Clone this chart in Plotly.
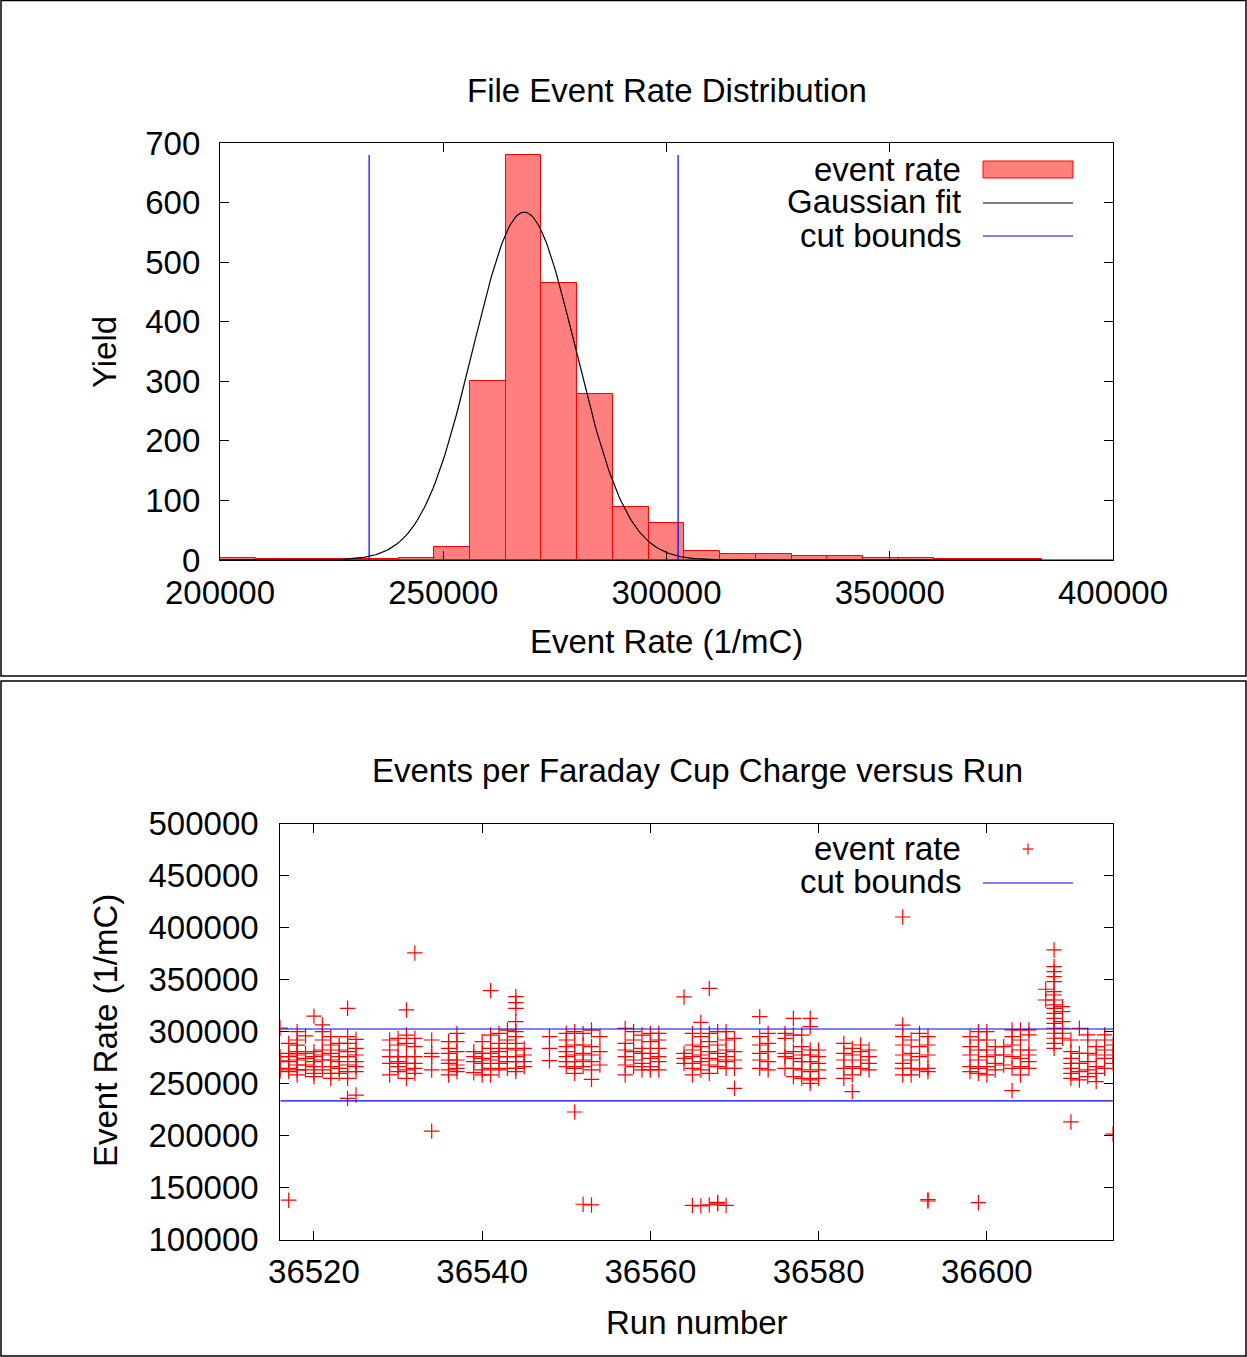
import numpy as np
import plotly.graph_objects as go

# ---------------- data: histogram ----------------
bin_low_edges = [200000, 208000, 216000, 224000, 232000, 240000, 248000, 256000,
                 264000, 272000, 280000, 288000, 296000, 304000, 312000, 320000,
                 328000, 336000, 344000, 352000, 360000, 368000, 376000]
bin_width = 8000
yield_counts = [3, 1, 1, 1, 2, 3, 22, 300, 680, 465, 278, 89, 62, 15, 10, 10,
                7, 7, 3, 4, 1, 1, 1]

# Gaussian fit parameters
fit_amplitude = 584
fit_mean = 268150
fit_sigma = 11500

cut_low = 233400
cut_high = 302600

# ---------------- data: event rate per run ----------------
run_ids = [36516, 36517, 36518, 36519, 36520, 36521, 36522, 36523, 36524, 36525,
           36529, 36530, 36531, 36532, 36534, 36536, 36537, 36539, 36540, 36541,
           36542, 36543, 36544, 36545, 36548, 36550, 36551, 36552, 36553, 36554,
           36557, 36558, 36559, 36560, 36561, 36564, 36565, 36566, 36567, 36568,
           36569, 36570, 36573, 36574, 36576, 36577, 36578, 36579, 36580, 36583,
           36584, 36585, 36586, 36590, 36591, 36592, 36593, 36598, 36599, 36600,
           36601, 36602, 36603, 36604, 36605, 36607, 36608, 36609, 36610, 36611,
           36612, 36613, 36614, 36615]
run_rates = [
    [303500, 276000, 272000, 264000, 262000],
    [288800, 279200, 276000, 271200, 264800, 261600, 138000],
    [300000, 292000, 287000, 280800, 277600, 272800, 268000, 263200, 258400],
    [295900, 279200, 274400, 268000, 263200],
    [315000, 280800, 276000, 271200, 266400, 260000, 256800],
    [306500, 300000, 292000, 282400, 277600, 272800, 263200],
    [295200, 287200, 279200, 272800, 266400, 260000, 255200],
    [288800, 282400, 276000, 271200, 264800, 260000],
    [322500, 295200, 288800, 280800, 276000, 268000, 261600, 255200, 235900],
    [292700, 284000, 277600, 271200, 266400, 261600, 239100],
    [292000, 282400, 276000, 269600, 258400],
    [293600, 287200, 276000, 271200, 266400, 261600],
    [320900, 296800, 288800, 276000, 269600, 263200, 255200],
    [375700, 293600, 285600, 276000, 269600, 264800, 260000],
    [292000, 279200, 276000, 263200, 204400],
    [290400, 284000, 279200, 272800, 269600, 263200, 258400],
    [298400, 290400, 280800, 272800, 268000, 264800, 261600],
    [280800, 276000, 271200, 260600],
    [290400, 279200, 274400, 269600, 263200, 258400],
    [339500, 296800, 284000, 279200, 272800, 264800, 258400],
    [298400, 288800, 280800, 276000, 269600, 263200],
    [301600, 292000, 284000, 276000, 271200, 264800],
    [333700, 328000, 322500, 309700, 300000, 295200, 288800, 282400, 276000, 271200, 264800, 261600],
    [284000, 277600, 271200, 266400],
    [295200, 284000, 272100],
    [298400, 292000, 285600, 280800, 276000, 271200, 266400],
    [300000, 287200, 277600, 271200, 264800, 260000, 222800],
    [298400, 287200, 279200, 272800, 266400, 134100],
    [301600, 285600, 277600, 271200, 263200, 254200, 133400],
    [295200, 280800, 268000],
    [303200, 288800, 282400, 276000, 268000, 258400],
    [300000, 292000, 280800, 272800, 266400],
    [296800, 284000, 279200, 269600, 263200],
    [298400, 290400, 279200, 274400, 266400, 263200],
    [298400, 292000, 284000, 276000, 271200, 263200],
    [333400, 279200, 274400, 269600],
    [298400, 287200, 282400, 276000, 269600, 264800, 258400, 133000],
    [309000, 295200, 285600, 277600, 271200, 263200, 132500],
    [341600, 298400, 290400, 280800, 274400, 268000, 260000, 133500],
    [300000, 287200, 279200, 272800, 266400, 134500, 135800],
    [300000, 292000, 282400, 276000, 271200, 264800, 133000],
    [293600, 280800, 272800, 264800, 245600],
    [314500, 295200, 287200, 279200, 272800, 264800],
    [298400, 288800, 280800, 271200, 263200],
    [298400, 293600, 279200, 276000, 264800],
    [312900, 296800, 280800, 274400, 264800, 256800],
    [296800, 285600, 277600, 271200, 263200, 255200],
    [312900, 304800, 282400, 277600, 271200, 261600, 253600, 250400],
    [282400, 276000, 269600, 263200, 255200],
    [288800, 279200, 272800, 264800, 255200],
    [284000, 277600, 266400, 258400, 242400],
    [287200, 280800, 272800, 264800],
    [282400, 276000, 269600, 263200],
    [410300, 306400, 295200, 287200, 277600, 269600, 264800, 258400],
    [292000, 279200, 272800, 264800, 258400],
    [298400, 285600, 276000, 263200],
    [295200, 287200, 277600, 264800, 261600, 138500, 137200],
    [295300, 285600, 277600, 266400, 261600],
    [300100, 292000, 282400, 272800, 264800, 260000, 135600],
    [300100, 292000, 282400, 276000, 266400, 258400],
    [285600, 277600, 269600, 263200],
    [285600, 277600, 268000],
    [301700, 295300, 287200, 276000, 264800, 243300],
    [301700, 292000, 282400, 274400, 266400, 258400],
    [301700, 296900, 282400, 277600, 271200, 264800],
    [340800, 330500],
    [378600, 362600, 357800, 352900, 348100, 338500, 335300, 330500, 325700, 322500,
     317700, 312900, 308100, 303300, 298500, 293700, 288800, 284000],
    [324100, 319300, 309700, 303300, 298500, 293700],
    [292000, 280800, 274400, 269600, 264800, 260000, 255200, 213200],
    [303300, 279200, 269600, 261600, 253600],
    [296900, 292000, 279200, 271200, 263200, 256800],
    [285600, 277600, 266400, 260000, 252000],
    [296900, 292000, 282400, 274400, 264800],
    [287200, 277600, 269600, 201600],
]

# ---------------- figure geometry ----------------
W, H = 1247, 1357
FONT = "Liberation Sans, Arial, sans-serif"
FS = 33


def px(x):
    return x / W


def py(y):
    return 1 - y / H


RED = "rgb(255,0,0)"
BLUE = "rgb(0,0,255)"

fig = go.Figure()

# ---- top: histogram ----
bin_centers = [lo + bin_width / 2 for lo in bin_low_edges]
fig.add_trace(go.Bar(
    x=bin_centers, y=yield_counts, width=bin_width,
    marker=dict(color="rgba(255,0,0,0.5)", line=dict(color=RED, width=1)),
    xaxis="x", yaxis="y", showlegend=False, hoverinfo="skip"))

xs = np.linspace(200000, 400000, 500)
ys = fit_amplitude * np.exp(-0.5 * ((xs - fit_mean) / fit_sigma) ** 2)
fig.add_trace(go.Scatter(x=xs, y=ys, mode="lines",
                         line=dict(color="black", width=1.2),
                         xaxis="x", yaxis="y", showlegend=False, hoverinfo="skip"))
for c in (cut_low, cut_high):
    fig.add_trace(go.Scatter(x=[c, c], y=[0, max(yield_counts)], mode="lines",
                             line=dict(color=BLUE, width=1.2),
                             xaxis="x", yaxis="y", showlegend=False, hoverinfo="skip"))

# ---- bottom: scatter ----
sx = [r for r, vals in zip(run_ids, run_rates) for _ in vals]
sy = [v for vals in run_rates for v in vals]
fig.add_trace(go.Scatter(x=sx, y=sy, mode="markers",
                         marker=dict(symbol="cross-thin", size=11,
                                     line=dict(color=RED, width=1.2)),
                         xaxis="x2", yaxis="y2", showlegend=False, hoverinfo="skip"))
for c in (cut_low, cut_high):
    fig.add_trace(go.Scatter(x=[min(run_ids), max(run_ids)], y=[c, c], mode="lines",
                             line=dict(color=BLUE, width=1.2),
                             xaxis="x2", yaxis="y2", showlegend=False, hoverinfo="skip"))

axis_common = dict(
    ticks="inside", ticklen=9, tickwidth=1, tickcolor="black",
    showline=True, linecolor="black", linewidth=1.2, mirror="ticks",
    showgrid=False, zeroline=False, tickformat="d", automargin=False,
    tickfont=dict(family=FONT, size=FS, color="black"),
)

fig.update_layout(
    width=W, height=H,
    margin=dict(l=0, r=0, t=0, b=0, pad=0, autoexpand=False),
    paper_bgcolor="white", plot_bgcolor="white",
    bargap=0,
    xaxis=dict(domain=[px(220), px(1113)], range=[200000, 400000], dtick=50000,
               tick0=200000, anchor="y", ticklabelstandoff=3, **axis_common),
    yaxis=dict(domain=[py(560), py(143)], range=[0, 700], dtick=100,
               anchor="x", ticklabelstandoff=12, **axis_common),
    xaxis2=dict(domain=[px(280.3), px(1113)], range=[min(run_ids), max(run_ids)],
                dtick=20, tick0=36520, anchor="y2", ticklabelstandoff=3, **axis_common),
    yaxis2=dict(domain=[py(1239.7), py(823.7)], range=[100000, 500000], dtick=50000,
                anchor="x2", ticklabelstandoff=14, **axis_common),
)

# ---- titles and axis titles ----
def label(text, x, y, angle=0):
    fig.add_annotation(text=text, x=px(x), y=py(y), xref="paper", yref="paper",
                       xanchor="center", yanchor="middle", showarrow=False,
                       textangle=angle, font=dict(family=FONT, size=FS, color="black"))


label("File Event Rate Distribution", 667, 90)
label("Event Rate (1/mC)", 667, 641)
label("Yield", 105, 352, -90)
label("Events per Faraday Cup Charge versus Run", 697, 770)
label("Run number", 697, 1322)
label("Event Rate (1/mC)", 105, 1031, -90)

# ---- legends ----
def leg_text(text, y):
    fig.add_annotation(text=text, x=px(962), y=py(y), xref="paper", yref="paper",
                       xanchor="right", yanchor="middle", showarrow=False,
                       height=30, valign="middle", borderpad=0,
                       font=dict(family=FONT, size=FS, color="black"))


leg_text("event rate", 169)
leg_text("Gaussian fit", 201)
leg_text("cut bounds", 235)
fig.add_shape(type="rect", xref="paper", yref="paper", x0=px(983), x1=px(1073),
              y0=py(178), y1=py(161), fillcolor="rgba(255,0,0,0.5)",
              line=dict(color=RED, width=1))
fig.add_shape(type="line", xref="paper", yref="paper", x0=px(983), x1=px(1073),
              y0=py(203), y1=py(203), line=dict(color="black", width=1.2))
fig.add_shape(type="line", xref="paper", yref="paper", x0=px(983), x1=px(1073),
              y0=py(236), y1=py(236), line=dict(color=BLUE, width=1.2))

leg_text("event rate", 848)
leg_text("cut bounds", 881)
fig.add_shape(type="line", xref="paper", yref="paper", x0=px(1022.5), x1=px(1033.5),
              y0=py(849), y1=py(849), line=dict(color=RED, width=1.2))
fig.add_shape(type="line", xref="paper", yref="paper", x0=px(1028), x1=px(1028),
              y0=py(854.5), y1=py(843.5), line=dict(color=RED, width=1.2))
fig.add_shape(type="line", xref="paper", yref="paper", x0=px(983), x1=px(1073),
              y0=py(883), y1=py(883), line=dict(color=BLUE, width=1.2))

# ---- panel frames ----
fig.add_shape(type="rect", xref="paper", yref="paper", x0=px(1), x1=px(1246),
              y0=py(676), y1=py(0.5), line=dict(color="black", width=1.5))
fig.add_shape(type="rect", xref="paper", yref="paper", x0=px(1), x1=px(1246),
              y0=py(1356), y1=py(681), line=dict(color="black", width=1.5))

fig.write_html("out.html")
